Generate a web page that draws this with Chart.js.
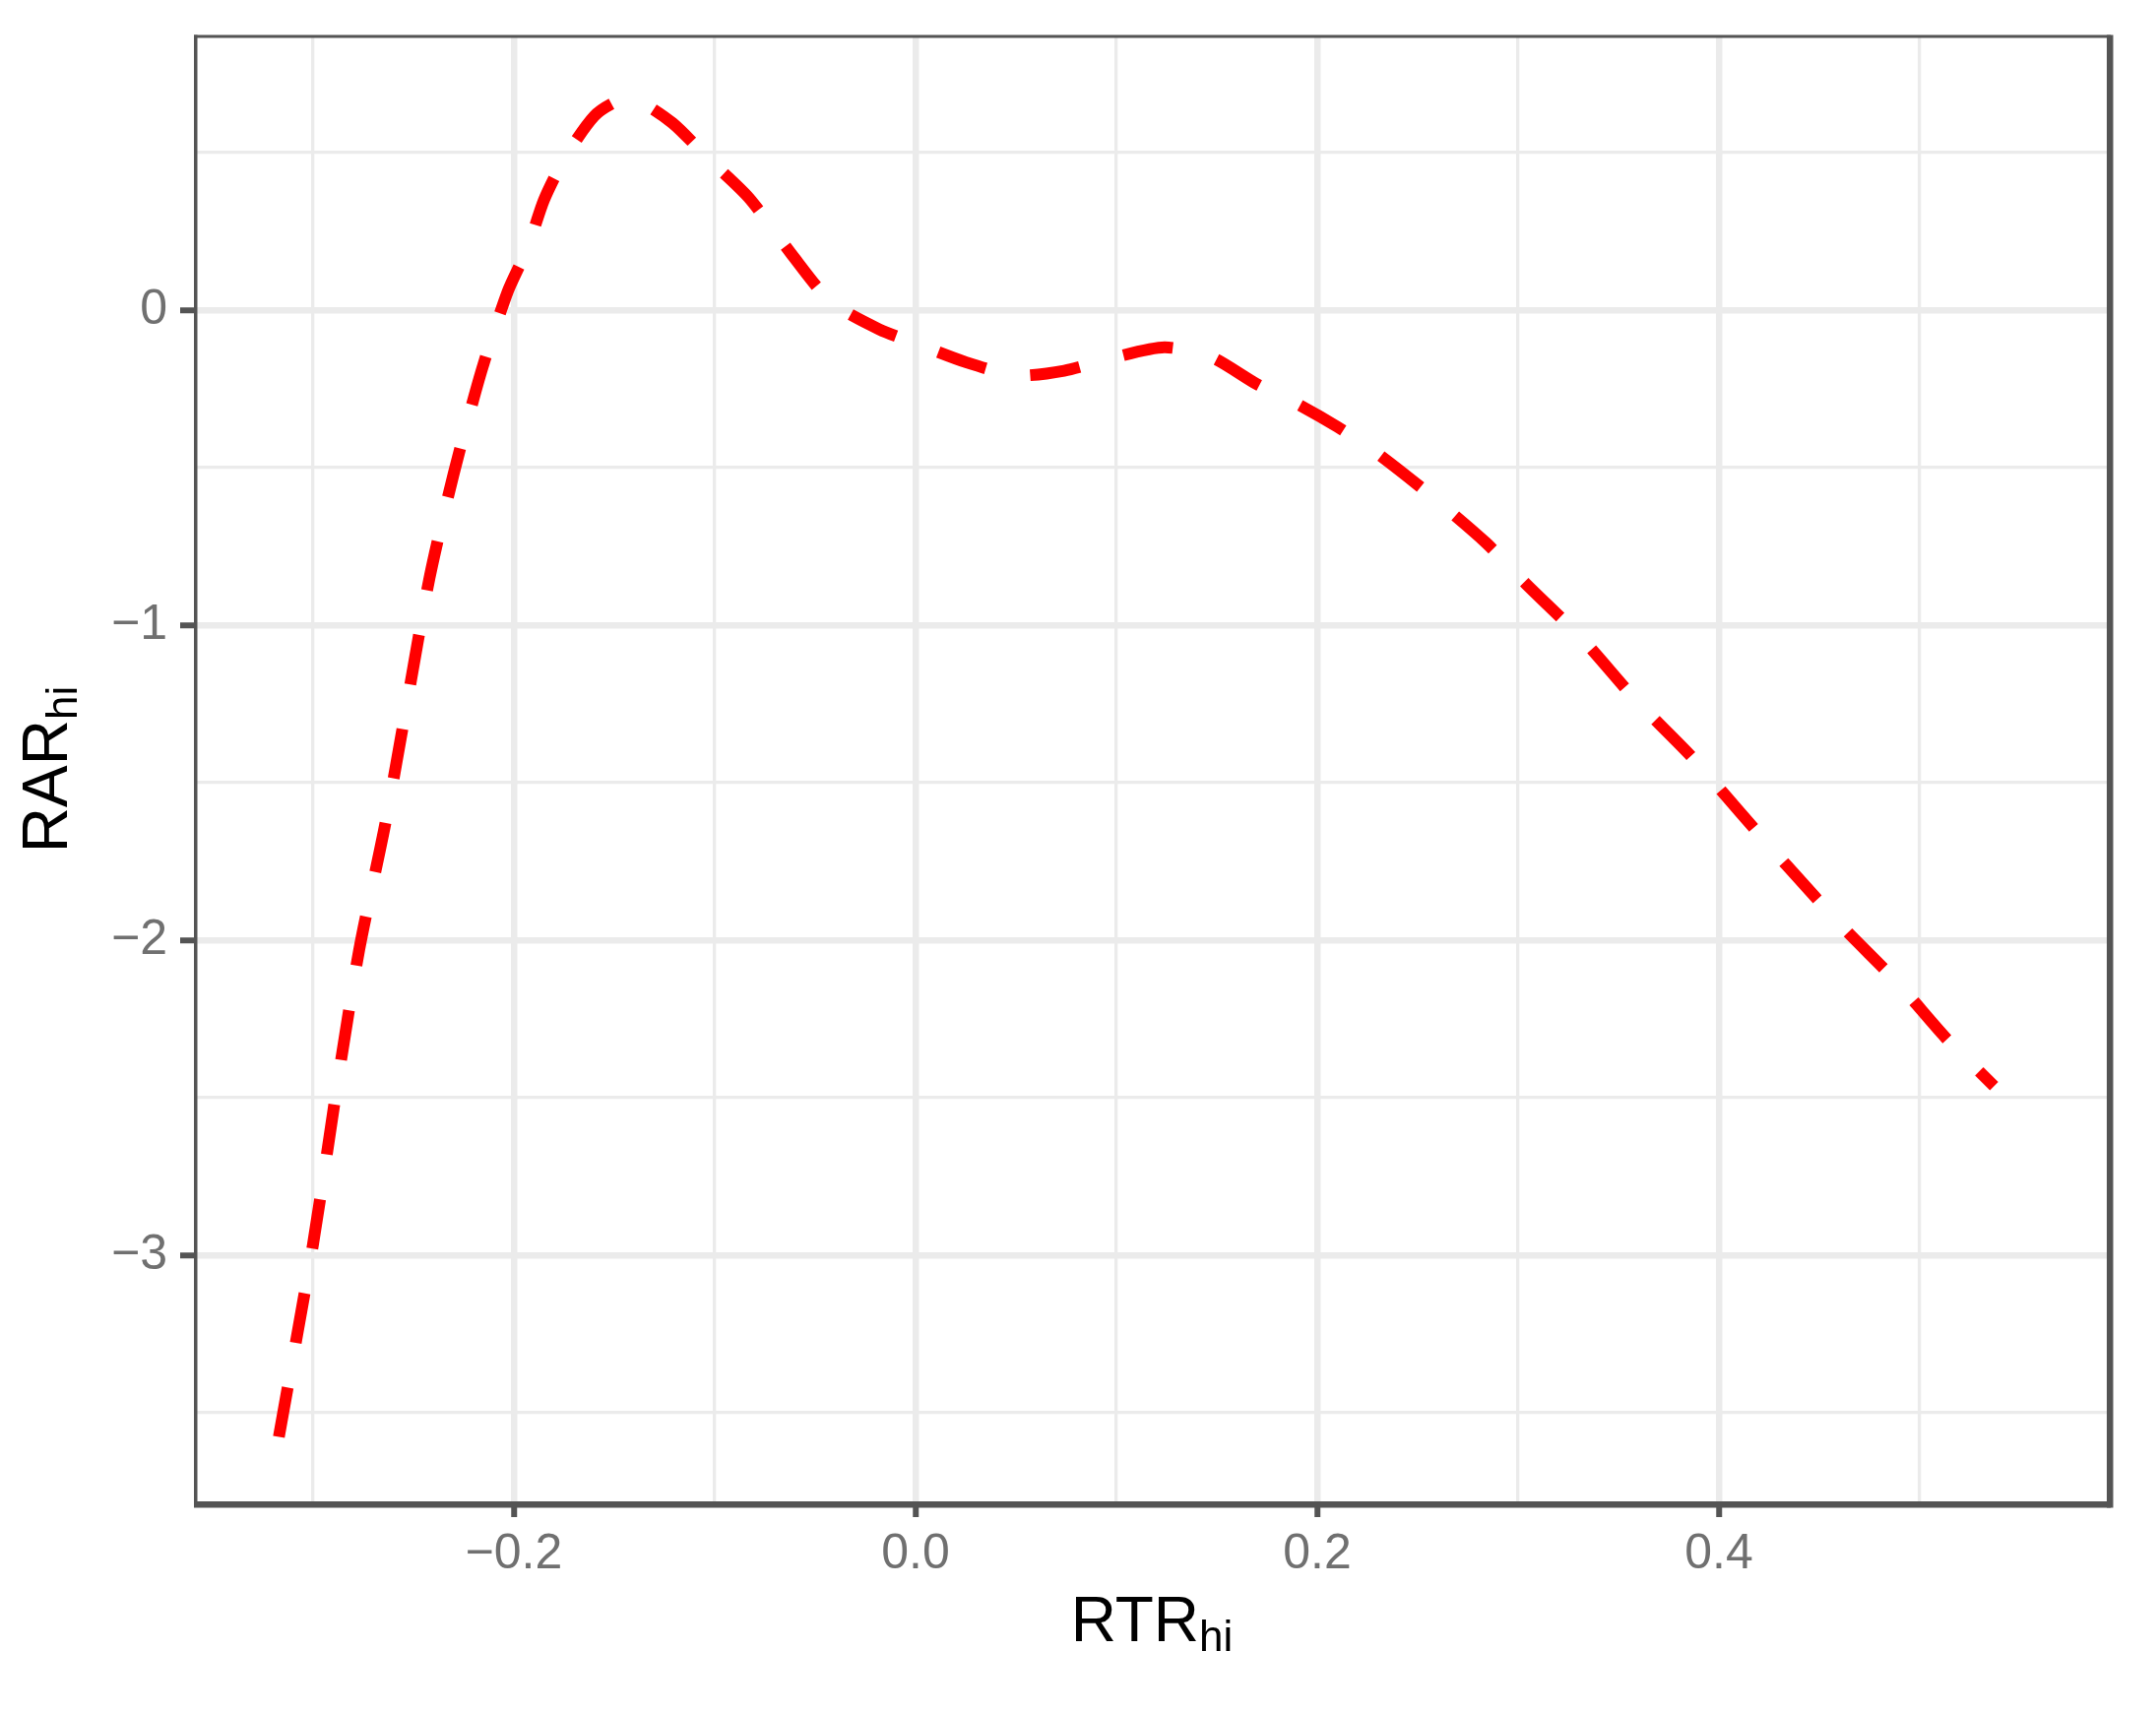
<!DOCTYPE html>
<html>
<head>
<meta charset="utf-8">
<script src="https://cdn.jsdelivr.net/npm/chart.js@4.4.1/dist/chart.umd.min.js"></script>
<style>
html, body { margin: 0; padding: 0; background: #ffffff; }
</style>
</head>
<body>
<canvas id="curveCanvas" width="2190" height="1741"></canvas>
<script>
// values
const rtrValues = [-0.317, -0.300, -0.287, -0.277, -0.264, -0.253, -0.242, -0.230, -0.216, -0.203,
    -0.193, -0.185, -0.174, -0.160, -0.149, -0.139, -0.121, -0.103, -0.083, -0.062, -0.042, -0.018,
    0.000, 0.025, 0.050, 0.074, 0.099, 0.124, 0.147, 0.170, 0.190, 0.210, 0.229,
    0.256, 0.284, 0.304, 0.332, 0.359, 0.386, 0.410, 0.434, 0.462, 0.489, 0.513, 0.537];
const rarValues = [-3.576, -2.965, -2.42, -2.03, -1.63, -1.24, -0.85, -0.52, -0.19, 0.06,
    0.20, 0.35, 0.49, 0.616, 0.662, 0.667, 0.594, 0.48, 0.357, 0.18, 0.026, -0.061,
    -0.105, -0.165, -0.207, -0.192, -0.15, -0.118, -0.148, -0.235, -0.297, -0.37, -0.45,
    -0.585, -0.738, -0.869, -1.044, -1.24, -1.415, -1.59, -1.764, -1.96, -2.135, -2.31, -2.463];

const xTickValues = [-0.3, -0.2, -0.1, 0.0, 0.1, 0.2, 0.3, 0.4, 0.5];
const xTickLabels = ["", "\u22120.2", "", "0.0", "", "0.2", "", "0.4", ""];
const yTickValues = [-3.5, -3, -2.5, -2, -1.5, -1, -0.5, 0, 0.5];
const yTickLabels = ["", "\u22123", "", "\u22122", "", "\u22121", "", "0", ""];

const xTitleMain = "RTR", xTitleSub = "hi";
const yTitleMain = "RAR", yTitleSub = "hi";

const gridColor = "#ebebeb";
const frameColor = "#545454";
const tickTextColor = "#707070";
const fontFamily = "'Liberation Sans', Arial, sans-serif";

function isMajor(values, labels, v) {
    const i = values.findIndex(t => Math.abs(t - v) < 1e-9);
    return i >= 0 && labels[i] !== "";
}

function drawSubText(ctx, main, sub, cx, baseY) {
    ctx.font = "64px " + fontFamily;
    const wMain = ctx.measureText(main).width;
    ctx.font = "44px " + fontFamily;
    const wSub = ctx.measureText(sub).width;
    const start = cx - (wMain + wSub) / 2;
    ctx.fillStyle = "#000000";
    ctx.textAlign = "left";
    ctx.textBaseline = "alphabetic";
    ctx.font = "64px " + fontFamily;
    ctx.fillText(main, start, baseY);
    ctx.font = "44px " + fontFamily;
    ctx.fillText(sub, start + wMain, baseY + 10);
}

const framePlugin = {
    id: "frame",
    afterDraw(chart) {
        const ctx = chart.ctx;
        const a = chart.chartArea;
        ctx.save();
        ctx.fillStyle = frameColor;
        ctx.fillRect(a.left - 2, a.top - 1.5, a.right - a.left + 5, 3);   // top
        ctx.fillRect(a.left - 2, a.top - 1.5, 3.5, a.bottom - a.top + 4); // left
        ctx.fillRect(a.left - 2, a.bottom - 1, a.right - a.left + 5, 6.5); // bottom
        ctx.fillRect(a.right - 1, a.top - 1.5, 6.5, a.bottom - a.top + 7); // right
        ctx.restore();

        ctx.save();
        drawSubText(ctx, xTitleMain, xTitleSub, (a.left + a.right) / 2, 1667);
        ctx.translate(68, (a.top + a.bottom) / 2);
        ctx.rotate(-Math.PI / 2);
        drawSubText(ctx, yTitleMain, yTitleSub, 0, 0);
        ctx.restore();
    }
};

const curveCanvas = document.getElementById("curveCanvas");
const curveChart = new Chart(curveCanvas, {
    type: "scatter",
    data: {
        datasets: [{
            data: rtrValues.map((x, i) => ({ x: x, y: rarValues[i] })),
            showLine: true,
            borderColor: "#ff0000",
            borderWidth: 12,
            borderDash: [51, 46],
            borderCapStyle: "butt",
            tension: 0.25,
            pointRadius: 0,
            fill: false
        }]
    },
    options: {
        responsive: false,
        animation: false,
        devicePixelRatio: 1,
        layout: {
            padding: { top: 37, right: 49, left: 0, bottom: 0 }
        },
        plugins: {
            legend: { display: false },
            tooltip: { enabled: false }
        },
        scales: {
            x: {
                type: "linear",
                min: -0.3583,
                max: 0.5936,
                afterBuildTicks: scale => { scale.ticks = xTickValues.map(v => ({ value: v })); },
                afterFit: scale => {
                    scale.height = 215;
                    scale.paddingLeft = 0;
                    scale.paddingRight = 0;
                },
                border: { display: false },
                grid: {
                    color: gridColor,
                    lineWidth: c => isMajor(xTickValues, xTickLabels, c.tick.value) ? 6.5 : 3.3,
                    tickLength: 15,
                    tickColor: c => isMajor(xTickValues, xTickLabels, c.tick.value) ? frameColor : "rgba(0,0,0,0)",
                    tickWidth: 6
                },
                ticks: {
                    autoSkip: false,
                    maxRotation: 0,
                    padding: 8,
                    color: tickTextColor,
                    font: { family: fontFamily, size: 50 },
                    callback: (v, i) => xTickLabels[i]
                }
            },
            y: {
                type: "linear",
                min: -3.784,
                max: 0.869,
                afterBuildTicks: scale => { scale.ticks = yTickValues.map(v => ({ value: v })); },
                afterFit: scale => {
                    scale.width = 199;
                    scale.paddingTop = 0;
                    scale.paddingBottom = 0;
                },
                border: { display: false },
                grid: {
                    color: gridColor,
                    lineWidth: c => isMajor(yTickValues, yTickLabels, c.tick.value) ? 6.5 : 3.3,
                    tickLength: 16,
                    tickColor: c => isMajor(yTickValues, yTickLabels, c.tick.value) ? frameColor : "rgba(0,0,0,0)",
                    tickWidth: 6
                },
                ticks: {
                    autoSkip: false,
                    padding: 13,
                    color: tickTextColor,
                    font: { family: fontFamily, size: 50 },
                    callback: (v, i) => yTickLabels[i]
                }
            }
        }
    },
    plugins: [framePlugin]
});
</script>
</body>
</html>
